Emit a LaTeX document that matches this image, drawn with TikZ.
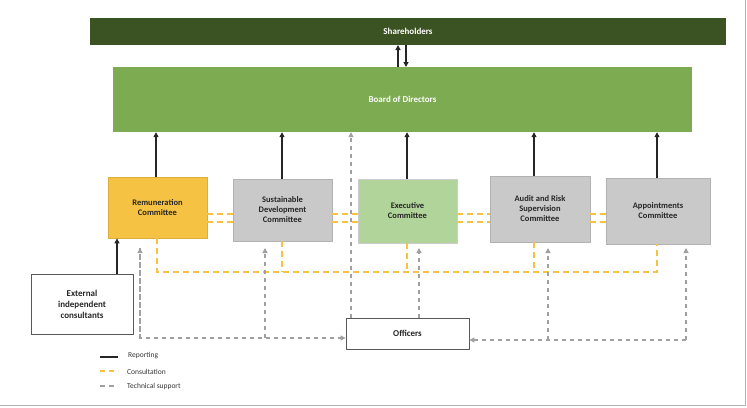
\documentclass[tikz,border=0pt]{standalone}
\usepackage{fontspec}
\setmainfont{Carlito}
\usetikzlibrary{arrows.meta}
\definecolor{dkgreen}{HTML}{3B5323}
\definecolor{board}{HTML}{7DAB52}
\definecolor{lgreen}{HTML}{B1D49A}
\definecolor{orng}{HTML}{F5C243}
\definecolor{gbox}{HTML}{C9C9C9}
\definecolor{tsup}{HTML}{A0A0A0}
\begin{document}
\begin{tikzpicture}[x=1pt,y=-1pt,
  box/.style={draw=#1,line width=0.8pt,align=center,font=\bfseries\fontsize{8.5}{10}\selectfont,text=black!85,inner sep=0pt},
  rep/.style={line width=1.2pt,black!85,-{Triangle[length=5pt,width=5pt]}},
  cons/.style={line width=1.3pt,orng,dash pattern=on 6pt off 4pt},
  tech/.style={line width=1.1pt,tsup,dash pattern=on 4pt off 4pt,-{Triangle[length=5pt,width=5pt]}}]
\useasboundingbox (0,0) rectangle (747,407);
\draw[gray!60,line width=0.8pt] (0,405) -- (745,405) -- (745,0);
% top boxes
\node[fill=dkgreen,minimum width=636pt,minimum height=27pt,text=white,font=\bfseries\fontsize{9}{10}\selectfont,inner sep=0pt] (sh) at (408,31.5) {Shareholders};
\node[fill=board,minimum width=579pt,minimum height=65pt,text=white,font=\bfseries\fontsize{9}{10}\selectfont,inner sep=0pt] (bd) at (402.5,99.5) {Board of Directors};
\draw[rep] (398,67) -- (398,45);
\draw[rep] (406,45) -- (406,67);
% committees
\node[box=orng!90!black,fill=orng,minimum width=99pt,minimum height=61pt] (rem) at (157.5,207.5) {Remuneration\\Committee};
\node[box=gray!60,fill=gbox,minimum width=99pt,minimum height=62pt] (sus) at (282.5,210) {Sustainable\\Development\\Committee};
\node[box=gray!40,fill=lgreen,minimum width=99pt,minimum height=64pt] (exe) at (407.5,211) {Executive\\Committee};
\node[box=gray!60,fill=gbox,minimum width=100pt,minimum height=66pt] (aud) at (540,209) {Audit and Risk\\Supervision\\Committee};
\node[box=gray!60,fill=gbox,minimum width=104pt,minimum height=66pt] (app) at (658,211) {Appointments\\Committee};
\node[box=gray!70!black,fill=white,minimum width=102pt,minimum height=60pt,font=\bfseries\fontsize{9}{11}\selectfont] (ext) at (82,304) {External\\independent\\consultants};
\node[box=gray!70!black,fill=white,minimum width=123pt,minimum height=31pt,font=\bfseries\fontsize{9}{10}\selectfont] (off) at (407.5,333.5) {Officers};
% consultation
\foreach \y in {214,222}{
  \draw[cons] (rem.east|-0,\y) -- (sus.west|-0,\y);
  \draw[cons] (sus.east|-0,\y) -- (exe.west|-0,\y);
  \draw[cons] (exe.east|-0,\y) -- (aud.west|-0,\y);
  \draw[cons] (aud.east|-0,\y) -- (app.west|-0,\y);}
\coordinate (cl) at (157,272);
\coordinate (cr) at (657,272);
\draw[cons] (157,238) -- (cl) -- (cr) -- (657,244);
\foreach \x/\n in {282/sus,407/exe,534/aud}{\draw[cons] (\n.south-|\x,0) -- (\x,272);}
% technical support
\draw[tech] (off.north-|351,0) -- (bd.south-|351,0);
\draw[tech] (140,248) |- (off.west|-0,338) ;
\draw[tech] (140,338) -- (140,248);
\draw[tech] (265,338) -- (265,248);
\draw[tech] (off.north-|419,0) -- (419,248);
\draw[tech] (548,340) -- (548,248);
\draw[tech] (686,340) -- (686,248);
\draw[tech] (686,340) -- (off.east|-0,340);
% reporting
\foreach \x/\n in {156/rem,282/sus,407/exe,534/aud,657/app}{\draw[rep] (\n.north-|\x,0) -- (bd.south-|\x,0);}
\draw[rep] (ext.north-|117,0) -- (rem.south-|117,0);
% legend
\draw[line width=1.3pt,black!85] (100,357) -- (118,357);
\draw[cons,dash pattern=on 5pt off 4pt] (100,371) -- (118,371);
\draw[line width=1.1pt,tsup,dash pattern=on 5pt off 4pt] (100,386) -- (118,386);
\begin{scope}[font=\fontsize{7.5}{9}\selectfont,text=black!80,anchor=west,inner sep=0pt]
\node[anchor=west] (l1) at (128,356) {Reporting};
\node[anchor=west] (l2) at (127,372) {Consultation};
\node[anchor=west] (l3) at (127,386) {Technical support};
\end{scope}
\end{tikzpicture}
\end{document}
